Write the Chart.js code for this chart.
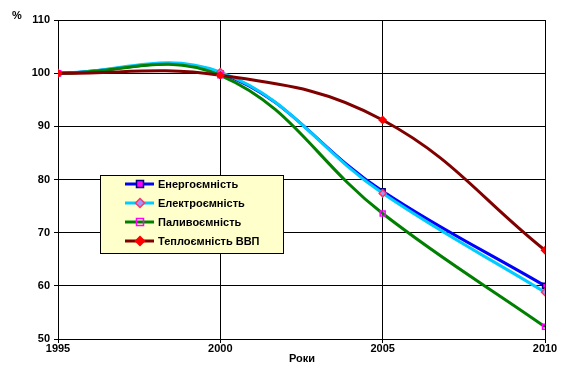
<!DOCTYPE html>
<html>
<head>
    <style>
        body { margin: 0; background: #fff; }
        #wrap { width: 571px; height: 375px; }
    </style>
    <script src="https://cdn.jsdelivr.net/npm/chart.js"></script>
</head>
<body>
    <div id="wrap"><canvas id="myChart" width="571" height="375"></canvas></div>
    <script>
        var years = [1995, 2000, 2005, 2010];
        var seriesNames = ['Енергоємність', 'Електроємність', 'Паливоємність', 'Теплоємність ВВП'];
        var energy = [100, 100, 77.8, 60.0];
        var electro = [100, 100.2, 77.4, 58.8];
        var fuel = [100, 99.6, 73.6, 52.3];
        var heat = [100, 99.6, 91.2, 66.7];
        var yTicks = [50, 60, 70, 80, 90, 100, 110];
        var xTicks = [1995, 2000, 2005, 2010];
        var xTitle = 'Роки';
        var yTitle = '%';

        var FONT = '"Liberation Sans", Arial, sans-serif';

        function pts(vals) {
            return vals.map(function (v, i) { return { x: years[i], y: v }; });
        }

        var styles = [
            { line: '#0000FF', style: 'rect', fill: '#FF00FF', border: '#000080', r: 3.5, order: 4 },
            { line: '#00CCFF', style: 'rectRot', fill: '#9999FF', border: '#FF3366', r: 3.5, order: 3 },
            { line: '#008000', style: 'rect', fill: 'rgba(0,0,0,0)', border: '#FF00FF', r: 3.5, order: 2 },
            { line: '#800000', style: 'rectRot', fill: '#FF0000', border: '#FF0000', r: 3.5, order: 1 }
        ];
        var allData = [energy, electro, fuel, heat];

        var datasets = allData.map(function (d, i) {
            var s = styles[i];
            return {
                label: seriesNames[i],
                data: pts(d),
                borderColor: s.line,
                borderWidth: 3,
                tension: 0.4,
                pointStyle: s.style,
                pointRadius: s.r,
                pointBackgroundColor: s.fill,
                pointBorderColor: s.border,
                pointBorderWidth: 1.5,
                order: s.order
            };
        });

        // legend box and axis captions drawn on the canvas
        var extras = {
            id: 'extras',
            afterDraw: function (chart) {
                var c = chart.ctx;
                c.save();
                c.fillStyle = '#FFFFCC';
                c.fillRect(100, 175, 183, 78);
                c.strokeStyle = '#000';
                c.lineWidth = 1;
                c.strokeRect(100.5, 175.5, 183, 78);
                for (var i = 0; i < seriesNames.length; i++) {
                    var y = 184 + i * 19;
                    var s = styles[i];
                    c.strokeStyle = s.line;
                    c.lineWidth = 3;
                    c.beginPath();
                    c.moveTo(125, y);
                    c.lineTo(154, y);
                    c.stroke();
                    c.fillStyle = s.fill;
                    c.strokeStyle = s.border;
                    c.lineWidth = 1.5;
                    c.beginPath();
                    if (s.style === 'rect') {
                        c.rect(136.5, y - 3.5, 7, 7);
                    } else {
                        c.moveTo(140, y - 4.5);
                        c.lineTo(144.5, y);
                        c.lineTo(140, y + 4.5);
                        c.lineTo(135.5, y);
                        c.closePath();
                    }
                    c.fill();
                    c.stroke();
                    c.fillStyle = '#000';
                    c.font = 'bold 11px ' + FONT;
                    c.textBaseline = 'middle';
                    c.textAlign = 'left';
                    c.fillText(seriesNames[i], 158, y + 1);
                }
                c.font = 'bold 11px ' + FONT;
                c.textAlign = 'center';
                c.textBaseline = 'middle';
                c.fillText(xTitle, 302, 359);
                c.fillText(yTitle, 17, 16);
                c.restore();
            }
        };

        var ctx = document.getElementById('myChart').getContext('2d');
        var myChart = new Chart(ctx, {
            type: 'line',
            data: { datasets: datasets },
            plugins: [extras],
            options: {
                responsive: false,
                animation: false,
                layout: { padding: { top: 20, right: 26, left: 0, bottom: 0 } },
                plugins: { legend: { display: false }, tooltip: { enabled: false } },
                scales: {
                    x: {
                        type: 'linear',
                        min: 1995,
                        max: 2010,
                        afterBuildTicks: function (scale) {
                            scale.ticks = xTicks.map(function (v) { return { value: v }; });
                        },
                        afterFit: function (scale) { scale.height = 36; },
                        grid: { color: '#000', lineWidth: 1, tickLength: 4, drawOnChartArea: true },
                        border: { color: '#000', width: 1 },
                        ticks: {
                            color: '#000',
                            font: { family: FONT, size: 11, weight: 'bold' },
                            padding: -1,
                            maxRotation: 0,
                            callback: function (v) { return String(v); }
                        }
                    },
                    y: {
                        min: 50,
                        max: 110,
                        afterBuildTicks: function (scale) {
                            scale.ticks = yTicks.map(function (v) { return { value: v }; });
                        },
                        afterFit: function (scale) { scale.width = 58; },
                        grid: { color: '#000', lineWidth: 1, tickLength: 4 },
                        border: { color: '#000', width: 1 },
                        ticks: {
                            color: '#000',
                            font: { family: FONT, size: 11, weight: 'bold' },
                            padding: 4
                        }
                    }
                }
            }
        });
    </script>
</body>
</html>
